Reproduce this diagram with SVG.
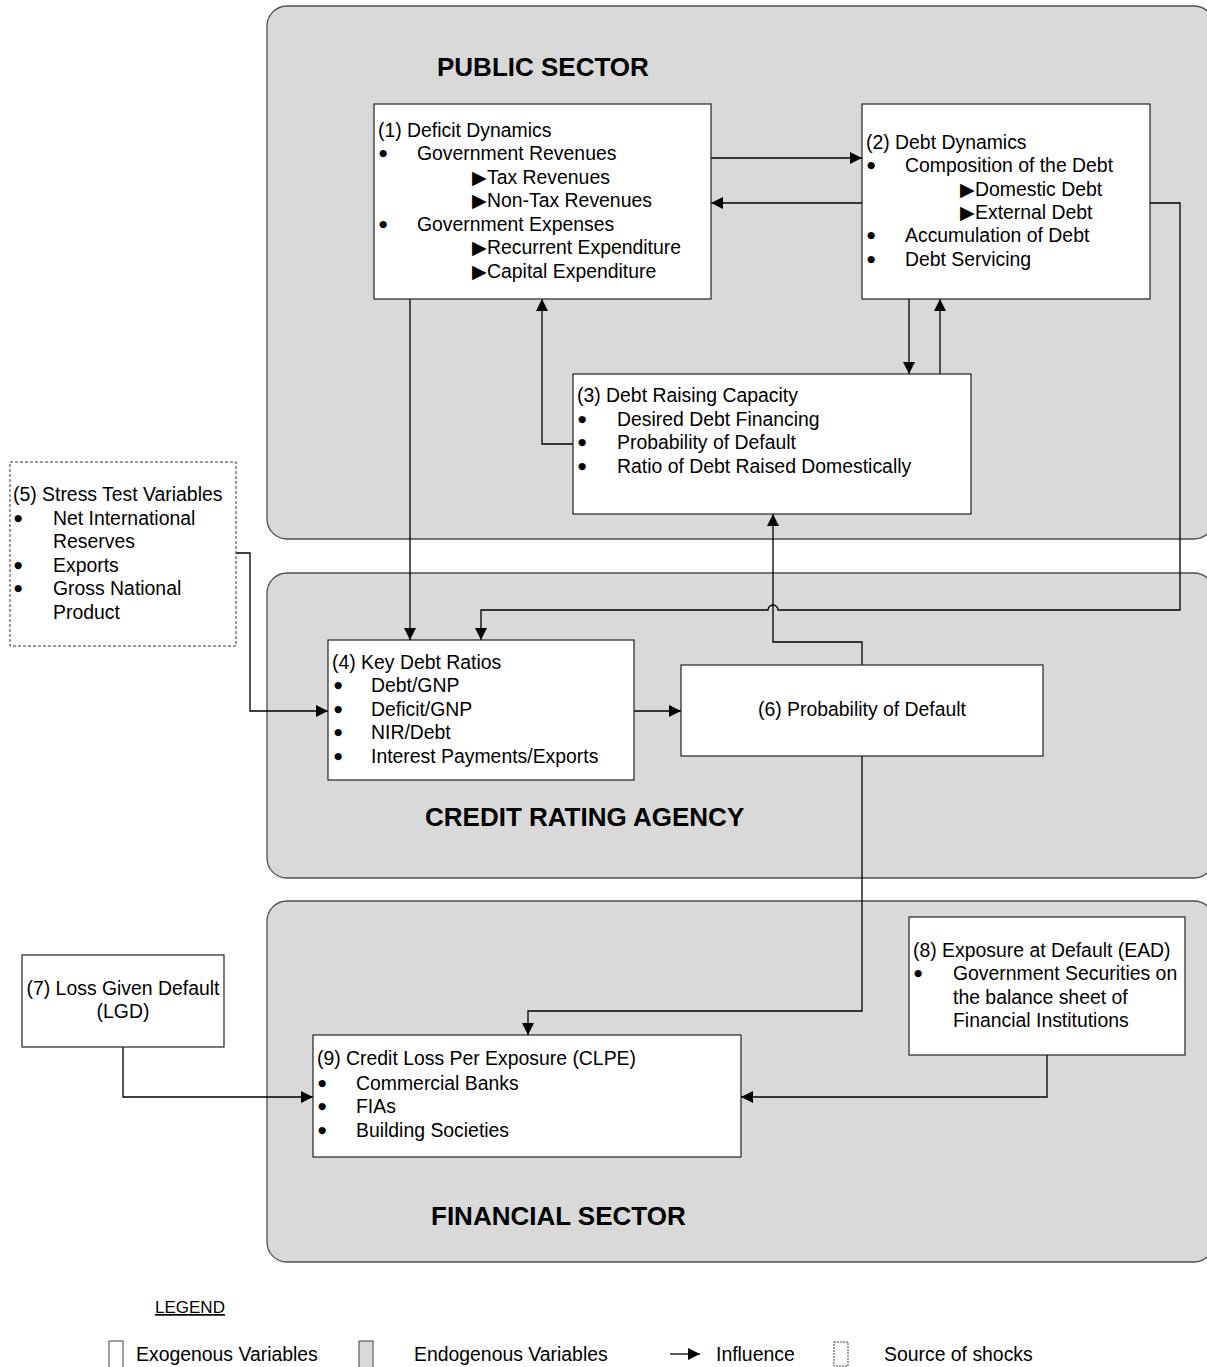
<svg xmlns="http://www.w3.org/2000/svg" width="1207" height="1367" viewBox="0 0 1207 1367">
<defs>
<marker id="ah" markerUnits="userSpaceOnUse" markerWidth="12" markerHeight="12" viewBox="0 0 12 12" refX="12" refY="6" orient="auto">
<path d="M0,0 L12,6 L0,12 Z" fill="#000"/>
</marker>
<style>
.panel{fill:#d9d9d9;stroke:#4d4d4d;stroke-width:1.3}
.box{fill:#fff;stroke:#222;stroke-width:1.2}
.dbox{fill:#fff;stroke:#333;stroke-width:1;stroke-dasharray:3,2}
.t{font-family:"Liberation Sans",Arial,sans-serif;font-size:19.4px;fill:#000}
.b{font-family:"DejaVu Sans",sans-serif;font-size:9.5px;fill:#000}
.title{font-family:"Liberation Sans",Arial,sans-serif;font-size:26px;font-weight:bold;fill:#000}
.ca{fill:none;stroke:#000;stroke-width:1.3;marker-end:url(#ah)}
</style>
</defs>
<rect width="1207" height="1367" fill="#fff"/>

<g id="panel-public"><rect class="panel" x="267" y="6" width="947" height="533" rx="20"/>
<text class="title" x="437" y="76">PUBLIC SECTOR</text></g>
<g id="panel-credit"><rect class="panel" x="267" y="573" width="947" height="305" rx="20"/>
<text class="title" x="425" y="826">CREDIT RATING AGENCY</text></g>
<g id="panel-financial"><rect class="panel" x="267" y="901" width="947" height="361" rx="20"/>
<text class="title" x="431" y="1225">FINANCIAL SECTOR</text></g>

<g id="connectors">
<path class="ca" d="M711,158 L862,158"/>
<path class="ca" d="M862,203 L711,203"/>
<path class="ca" d="M909,299 L909,374"/>
<path class="ca" d="M940,374 L940,299"/>
<path class="ca" d="M573,444 L542,444 L542,299"/>
<path class="ca" d="M410,299 L410,640"/>
<path class="ca" d="M1150,203 L1180,203 L1180,610 L778,610 A5,5 0 0 0 768,610 L481,610 L481,640"/>
<path class="ca" d="M862,665 L862,642 L773,642 L773,514"/>
<path class="ca" d="M236,553 L250,553 L250,711 L328,711"/>
<path class="ca" d="M634,711 L681,711"/>
<path class="ca" d="M862,756 L862,1011 L528,1011 L528,1035"/>
<path class="ca" d="M123,1047 L123,1097 L313,1097"/>
<path class="ca" d="M1047,1055 L1047,1097 L741,1097"/>
</g>

<g id="node1"><rect class="box" x="374" y="104" width="337" height="195"/>
<text class="t" x="378" y="137">(1) Deficit Dynamics</text>
<text class="b" x="379" y="156">●</text><text class="t" x="417" y="160">Government Revenues</text>
<text class="t" x="472" y="184">▶Tax Revenues</text>
<text class="t" x="472" y="207">▶Non-Tax Revenues</text>
<text class="b" x="379" y="227">●</text><text class="t" x="417" y="231">Government Expenses</text>
<text class="t" x="472" y="254">▶Recurrent Expenditure</text>
<text class="t" x="472" y="278">▶Capital Expenditure</text>
</g>

<g id="node2"><rect class="box" x="862" y="104" width="288" height="195"/>
<text class="t" x="866" y="149">(2) Debt Dynamics</text>
<text class="b" x="867" y="168">●</text><text class="t" x="905" y="172">Composition of the Debt</text>
<text class="t" x="960" y="196">▶Domestic Debt</text>
<text class="t" x="960" y="219">▶External Debt</text>
<text class="b" x="867" y="238">●</text><text class="t" x="905" y="242">Accumulation of Debt</text>
<text class="b" x="867" y="262">●</text><text class="t" x="905" y="266">Debt Servicing</text>
</g>

<g id="node3"><rect class="box" x="573" y="374" width="398" height="140"/>
<text class="t" x="577" y="402">(3) Debt Raising Capacity</text>
<text class="b" x="578" y="422">●</text><text class="t" x="617" y="426">Desired Debt Financing</text>
<text class="b" x="578" y="445">●</text><text class="t" x="617" y="449">Probability of Default</text>
<text class="b" x="578" y="469">●</text><text class="t" x="617" y="473">Ratio of Debt Raised Domestically</text>
</g>

<g id="node5"><rect class="dbox" x="10" y="462" width="226" height="184"/>
<text class="t" x="13" y="501">(5) Stress Test Variables</text>
<text class="b" x="14" y="521">●</text><text class="t" x="53" y="525">Net International</text>
<text class="t" x="53" y="548">Reserves</text>
<text class="b" x="14" y="568">●</text><text class="t" x="53" y="572">Exports</text>
<text class="b" x="14" y="591">●</text><text class="t" x="53" y="595">Gross National</text>
<text class="t" x="53" y="619">Product</text>
</g>

<g id="node4"><rect class="box" x="328" y="640" width="306" height="140"/>
<text class="t" x="332" y="669">(4) Key Debt Ratios</text>
<text class="b" x="334" y="688">●</text><text class="t" x="371" y="692">Debt/GNP</text>
<text class="b" x="334" y="712">●</text><text class="t" x="371" y="716">Deficit/GNP</text>
<text class="b" x="334" y="735">●</text><text class="t" x="371" y="739">NIR/Debt</text>
<text class="b" x="334" y="759">●</text><text class="t" x="371" y="763">Interest Payments/Exports</text>
</g>

<g id="node6"><rect class="box" x="681" y="665" width="362" height="91"/>
<text class="t" x="862" y="716" text-anchor="middle">(6) Probability of Default</text>
</g>

<g id="node7"><rect class="box" x="22" y="955" width="202" height="92"/>
<text class="t" x="123" y="995" text-anchor="middle">(7) Loss Given Default</text>
<text class="t" x="123" y="1018" text-anchor="middle">(LGD)</text>
</g>

<g id="node8"><rect class="box" x="909" y="917" width="276" height="138"/>
<text class="t" x="913" y="957">(8) Exposure at Default (EAD)</text>
<text class="b" x="914" y="976">●</text><text class="t" x="953" y="980">Government Securities on</text>
<text class="t" x="953" y="1004">the balance sheet of</text>
<text class="t" x="953" y="1027">Financial Institutions</text>
</g>

<g id="node9"><rect class="box" x="313" y="1035" width="428" height="122"/>
<text class="t" x="317" y="1065">(9) Credit Loss Per Exposure (CLPE)</text>
<text class="b" x="318" y="1086">●</text><text class="t" x="356" y="1090">Commercial Banks</text>
<text class="b" x="318" y="1109">●</text><text class="t" x="356" y="1113">FIAs</text>
<text class="b" x="318" y="1133">●</text><text class="t" x="356" y="1137">Building Societies</text>
</g>

<g id="legend">
<text class="t" x="155" y="1313" style="font-size:17px;text-decoration:underline">LEGEND</text>
<rect x="109" y="1341" width="14" height="32" fill="#fff" stroke="#444" stroke-width="1"/>
<text class="t" x="136" y="1361">Exogenous Variables</text>
<rect x="359" y="1341" width="14" height="32" fill="#d9d9d9" stroke="#444" stroke-width="1"/>
<text class="t" x="414" y="1361">Endogenous Variables</text>
<path class="ca" d="M670,1354 L700,1354"/>
<text class="t" x="716" y="1361">Influence</text>
<rect x="834" y="1342" width="14" height="24" fill="#fff" stroke="#444" stroke-width="1" stroke-dasharray="2,1"/>
<text class="t" x="884" y="1361">Source of shocks</text>
</g>
</svg>
